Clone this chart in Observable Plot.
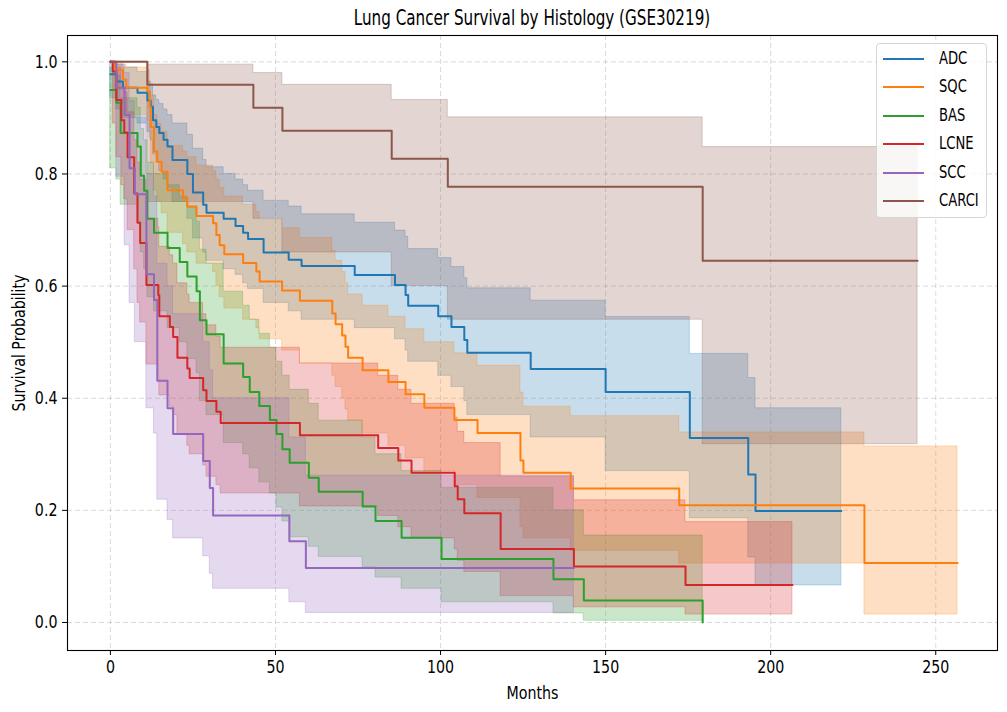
<!DOCTYPE html>
<html>
<head>
<meta charset="utf-8">
<script src="https://cdn.jsdelivr.net/npm/d3@7"></script>
<script src="https://cdn.jsdelivr.net/npm/@observablehq/plot@0.6"></script>
<style>
  html, body { margin: 0; padding: 0; background: #fff; }
  #wrap { position: relative; width: 1007px; height: 712px; font-family: "DejaVu Sans", sans-serif; }
  #title { height: 30px; width: 1007px; position: relative; }
  #title span { position: absolute; left: 532px; top: 5px; transform: translateX(-50%) scaleX(0.69); font-size: 22px; line-height: 26px; white-space: nowrap; color: #000; }
  #legend { position: absolute; left: 876px; top: 43px; width: 111px; height: 175px; box-sizing: border-box;
            border: 1px solid #d6d6d6; border-radius: 4px; background: rgba(255,255,255,0.8); }
  .row { position: absolute; left: 0; height: 20px; }
  .row .ln { position: absolute; left: 6px; top: 9px; width: 41px; height: 2px; }
  .row .lb { position: absolute; left: 62px; top: -2px; font-size: 18px; line-height: 22px; color: #000; transform: scaleX(0.73); transform-origin: left center; white-space: nowrap; }
</style>
</head>
<body>
<div id="wrap">
  <div id="title"><span>Lung Cancer Survival by Histology (GSE30219)</span></div>
  <div id="chart"></div>
  <div id="legend"></div>
</div>
<script>
const categories = ["ADC", "SQC", "BAS", "LCNE", "SCC", "CARCI"];
const colors = ["#1f77b4", "#ff7f0e", "#2ca02c", "#d62728", "#9467bd", "#8c564b"];
const endTimes = [221.4, 256.6, 179.4, 206.6, 140.4, 244.5];

const xTicks = [0, 50, 100, 150, 200, 250];
const yTicks = [0.0, 0.2, 0.4, 0.6, 0.8, 1.0];

// ADC
const adcT  = [0, 1.8, 3.8, 8.2, 11.2, 12.2, 12.9, 13.9, 14.8, 16.1, 17.3, 18.8, 23.3, 25.0, 28.1, 29.1, 34.3, 37.9, 40.2, 41.7, 46.4, 54.0, 57.9, 74.0, 86.2, 89.4, 90.2, 99.3, 103.3, 107.2, 108.1, 127.3, 150.0, 175.5, 193.2, 195.4];
const adcS  = [0.978, 0.965, 0.954, 0.945, 0.931, 0.92, 0.896, 0.884, 0.873, 0.861, 0.849, 0.825, 0.80, 0.767, 0.745, 0.731, 0.72, 0.707, 0.695, 0.684, 0.66, 0.647, 0.636, 0.62, 0.602, 0.584, 0.565, 0.546, 0.527, 0.504, 0.481, 0.452, 0.411, 0.329, 0.264, 0.199];
const adcHi = [1.0, 0.995, 0.99, 0.982, 0.965, 0.96, 0.94, 0.932, 0.925, 0.915, 0.905, 0.89, 0.87, 0.845, 0.825, 0.812, 0.80, 0.79, 0.78, 0.77, 0.752, 0.742, 0.728, 0.713, 0.699, 0.688, 0.666, 0.65, 0.634, 0.614, 0.596, 0.574, 0.545, 0.479, 0.436, 0.382];
const adcLo = [0.935, 0.915, 0.90, 0.89, 0.875, 0.86, 0.835, 0.82, 0.805, 0.79, 0.775, 0.75, 0.72, 0.685, 0.66, 0.645, 0.63, 0.62, 0.605, 0.595, 0.57, 0.555, 0.54, 0.525, 0.505, 0.485, 0.465, 0.44, 0.42, 0.395, 0.37, 0.33, 0.27, 0.186, 0.116, 0.066];

// SQC
const sqcT  = [0, 1.3, 3.8, 4.8, 11.2, 11.9, 12.2, 13.2, 14.2, 15.5, 17.3, 22.0, 23.3, 26.1, 31.1, 32.1, 33.1, 34.5, 40.2, 44.2, 45.2, 52.0, 57.4, 67.2, 68.2, 70.2, 71.2, 72.0, 76.4, 84.2, 89.4, 95.1, 104.2, 111.2, 124.2, 125.1, 139.4, 172.3, 228.4];
const sqcS  = [1.0, 0.986, 0.968, 0.954, 0.947, 0.92, 0.884, 0.84, 0.822, 0.804, 0.771, 0.757, 0.742, 0.725, 0.712, 0.691, 0.673, 0.657, 0.641, 0.626, 0.608, 0.592, 0.574, 0.551, 0.532, 0.512, 0.492, 0.472, 0.45, 0.429, 0.407, 0.383, 0.361, 0.338, 0.289, 0.267, 0.239, 0.209, 0.106];
const sqcHi = [1.0, 1.0, 0.995, 0.99, 0.985, 0.965, 0.94, 0.905, 0.89, 0.875, 0.85, 0.84, 0.83, 0.815, 0.805, 0.79, 0.775, 0.76, 0.745, 0.732, 0.718, 0.703, 0.686, 0.663, 0.645, 0.625, 0.605, 0.585, 0.565, 0.545, 0.523, 0.50, 0.48, 0.458, 0.41, 0.385, 0.368, 0.339, 0.314];
const sqcLo = [1.0, 0.95, 0.925, 0.905, 0.895, 0.865, 0.82, 0.77, 0.75, 0.73, 0.695, 0.675, 0.66, 0.64, 0.625, 0.60, 0.58, 0.56, 0.54, 0.525, 0.505, 0.485, 0.462, 0.44, 0.42, 0.40, 0.38, 0.36, 0.337, 0.315, 0.293, 0.27, 0.245, 0.222, 0.17, 0.15, 0.128, 0.105, 0.014];

// BAS
const basT  = [0, 1.8, 3.1, 8.2, 9.2, 10.2, 11.2, 13.2, 17.3, 21.0, 23.3, 26.1, 27.1, 29.1, 34.3, 40.2, 42.2, 45.1, 48.3, 50.3, 52.1, 54.3, 60.1, 63.1, 76.4, 80.3, 88.2, 100.3, 134.2, 143.4, 179.4];
const basS  = [0.95, 0.927, 0.873, 0.849, 0.797, 0.77, 0.72, 0.695, 0.668, 0.643, 0.617, 0.591, 0.539, 0.514, 0.462, 0.438, 0.411, 0.386, 0.361, 0.336, 0.309, 0.285, 0.258, 0.233, 0.207, 0.181, 0.151, 0.113, 0.077, 0.039, 0.0];
const basHi = [0.99, 0.975, 0.935, 0.918, 0.88, 0.86, 0.82, 0.80, 0.78, 0.76, 0.74, 0.715, 0.665, 0.64, 0.59, 0.565, 0.54, 0.515, 0.49, 0.465, 0.44, 0.415, 0.39, 0.36, 0.33, 0.30, 0.27, 0.24, 0.20, 0.155, 0.0];
const basLo = [0.81, 0.79, 0.745, 0.715, 0.66, 0.63, 0.58, 0.555, 0.525, 0.50, 0.47, 0.445, 0.395, 0.37, 0.32, 0.30, 0.275, 0.25, 0.23, 0.205, 0.18, 0.152, 0.135, 0.117, 0.099, 0.08, 0.06, 0.036, 0.016, 0.003, 0.0];

// LCNE
const lcneT  = [0, 0.7, 1.8, 3.3, 4.2, 5.2, 7.2, 8.2, 9.0, 10.9, 14.5, 14.8, 18.0, 19.0, 20.3, 23.3, 24.0, 28.1, 29.1, 32.1, 33.4, 57.4, 81.1, 87.2, 91.2, 104.3, 105.2, 107.2, 118.2, 140.4, 174.2];
const lcneS  = [1.0, 0.983, 0.932, 0.896, 0.874, 0.83, 0.765, 0.713, 0.677, 0.602, 0.584, 0.546, 0.527, 0.509, 0.472, 0.453, 0.436, 0.414, 0.395, 0.376, 0.356, 0.334, 0.311, 0.289, 0.267, 0.243, 0.22, 0.195, 0.131, 0.10, 0.067];
const lcneHi = [1.0, 1.0, 0.99, 0.96, 0.945, 0.91, 0.86, 0.82, 0.79, 0.72, 0.705, 0.67, 0.655, 0.64, 0.605, 0.585, 0.57, 0.55, 0.53, 0.51, 0.49, 0.462, 0.44, 0.415, 0.39, 0.365, 0.34, 0.32, 0.26, 0.218, 0.179];
const lcneLo = [1.0, 0.89, 0.83, 0.78, 0.755, 0.70, 0.63, 0.57, 0.535, 0.46, 0.44, 0.405, 0.385, 0.37, 0.335, 0.315, 0.30, 0.28, 0.26, 0.245, 0.23, 0.207, 0.19, 0.17, 0.15, 0.13, 0.11, 0.09, 0.047, 0.027, 0.014];

// SCC
const sccT  = [0, 1.8, 4.3, 5.8, 7.4, 10.9, 13.2, 14.2, 17.3, 19.0, 28.1, 30.1, 31.1, 54.2, 59.2];
const sccS  = [1.0, 0.954, 0.905, 0.81, 0.764, 0.621, 0.575, 0.431, 0.382, 0.336, 0.288, 0.24, 0.191, 0.145, 0.097];
const sccHi = [1.0, 0.995, 0.98, 0.93, 0.90, 0.80, 0.76, 0.64, 0.60, 0.55, 0.50, 0.45, 0.40, 0.33, 0.262];
const sccLo = [1.0, 0.795, 0.673, 0.57, 0.50, 0.382, 0.337, 0.219, 0.183, 0.15, 0.118, 0.087, 0.06, 0.036, 0.017];

// CARCI
const carciT  = [0, 11.2, 43.3, 52.1, 85.2, 102.2, 179.4];
const carciS  = [1.0, 0.959, 0.918, 0.877, 0.827, 0.777, 0.645];
const carciHi = [1.0, 0.995, 0.98, 0.959, 0.932, 0.901, 0.848];
const carciLo = [1.0, 0.75, 0.72, 0.66, 0.60, 0.54, 0.318];

const seriesT  = [adcT, sqcT, basT, lcneT, sccT, carciT];
const seriesS  = [adcS, sqcS, basS, lcneS, sccS, carciS];
const seriesHi = [adcHi, sqcHi, basHi, lcneHi, sccHi, carciHi];
const seriesLo = [adcLo, sqcLo, basLo, lcneLo, sccLo, carciLo];

const FONT = '"DejaVu Sans", sans-serif';

function rowsFor(i) {
  const T = seriesT[i], S = seriesS[i], H = seriesHi[i], L = seriesLo[i];
  const rows = T.map((t, j) => ({t, s: S[j], hi: H[j], lo: L[j], name: categories[i]}));
  const last = rows[rows.length - 1];
  rows.push({...last, t: endTimes[i]});
  return rows;
}

const allRows = categories.map((c, i) => rowsFor(i));

const marks = [
  Plot.ruleX(xTicks, {x: d => d, stroke: "#b0b0b0", strokeOpacity: 0.6, strokeWidth: 0.8, strokeDasharray: "5,3"}),
  Plot.ruleY(yTicks, {y: d => d, stroke: "#b0b0b0", strokeOpacity: 0.6, strokeWidth: 0.8, strokeDasharray: "5,3"})
];
categories.forEach((c, i) => {
  marks.push(Plot.areaY(allRows[i], {x: "t", y1: "lo", y2: "hi", curve: "step-after", fill: colors[i], fillOpacity: 0.25,
                                     stroke: colors[i], strokeOpacity: 0.25, strokeWidth: 1}));
});
categories.forEach((c, i) => {
  marks.push(Plot.lineY(allRows[i], {x: "t", y: "s", curve: "step-after", stroke: colors[i], strokeWidth: 2}));
});
marks.push(Plot.frame({stroke: "#000", strokeWidth: 1.1}));
marks.push(Plot.axisX({ticks: xTicks, tickSize: 5, tickPadding: 5, fontSize: 18, label: "Months", labelAnchor: "center", labelArrow: "none", labelOffset: 48}));
marks.push(Plot.axisY({ticks: yTicks, tickSize: 5, tickPadding: 5, tickFormat: d => d.toFixed(1), fontSize: 18, label: "Survival Probability", labelAnchor: "center", labelArrow: "none", labelOffset: 55}));

const chart = Plot.plot({
  width: 1007,
  height: 682,
  marginTop: 5,
  marginBottom: 62,
  marginLeft: 67,
  marginRight: 10,
  style: {fontFamily: FONT, fontSize: "18px", color: "#000", background: "#fff"},
  x: {domain: [-13.0, 268.7]},
  y: {domain: [-0.05, 1.047]},
  marks
});
document.getElementById("chart").appendChild(chart);

// narrow the glyphs to mimic the condensed face of the original
chart.querySelectorAll("text").forEach(t => {
  const len = t.getComputedTextLength();
  if (len > 0) {
    t.setAttribute("textLength", (len * 0.79).toFixed(2));
    t.setAttribute("lengthAdjust", "spacingAndGlyphs");
  }
});

const legend = document.getElementById("legend");
categories.forEach((c, i) => {
  const row = document.createElement("div");
  row.className = "row";
  row.style.top = (5 + i * 28.4) + "px";
  row.style.width = "100%";
  const ln = document.createElement("div");
  ln.className = "ln";
  ln.style.background = colors[i];
  const lb = document.createElement("div");
  lb.className = "lb";
  lb.textContent = c;
  row.appendChild(ln);
  row.appendChild(lb);
  legend.appendChild(row);
});
</script>
</body>
</html>
